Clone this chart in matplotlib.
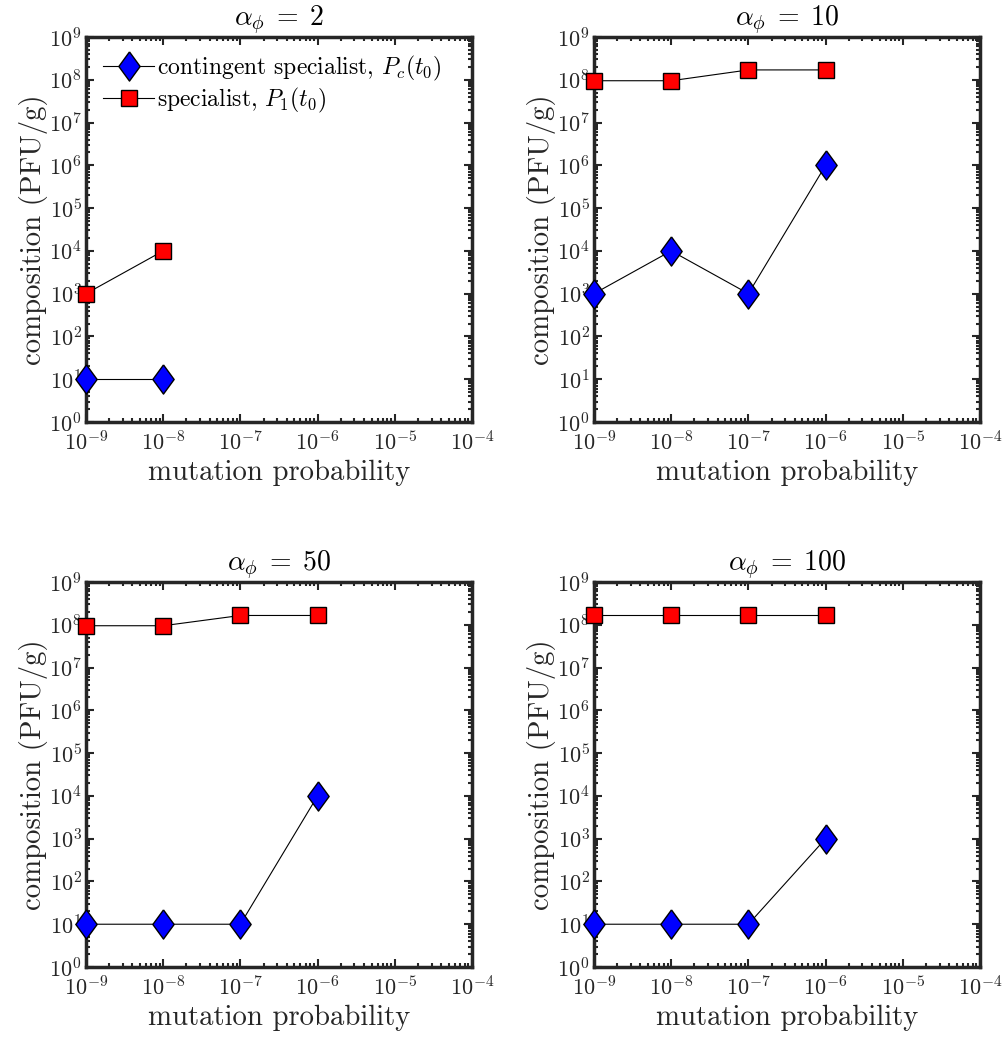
import matplotlib
matplotlib.use("Agg")
import matplotlib.pyplot as plt
from matplotlib.ticker import LogLocator, NullFormatter

plt.rcParams['font.family'] = ['cmr10', 'DejaVu Serif']
plt.rcParams['mathtext.fontset'] = 'cm'
plt.rcParams['axes.formatter.use_mathtext'] = True

# data
mutation = [1e-9, 1e-8, 1e-7, 1e-6]
alphas = [2, 10, 50, 100]
contingent = {
    2: [10, 10],
    10: [1e3, 1e4, 1e3, 1e6],
    50: [10, 10, 10, 1e4],
    100: [10, 10, 10, 1e3],
}
specialist = {
    2: [1e3, 1e4],
    10: [0.95e8, 0.95e8, 1.7e8, 1.7e8],
    50: [0.95e8, 0.95e8, 1.65e8, 1.65e8],
    100: [1.65e8, 1.65e8, 1.65e8, 1.65e8],
}

# MATLAB-like diamond (a bit wider than matplotlib's 'd')
diamond = [(0, 1), (0.73, 0), (0, -1), (-0.73, 0), (0, 1)]

W, H = 1002, 1038
fig = plt.figure(figsize=(W / 100, H / 100), dpi=100)

# axes boxes in pixels: left, top
boxes = [(86, 37), (594, 37), (86, 582), (594, 582)]
aw, ah = 386, 385
dark = '#262626'

for a, (px, py) in zip(alphas, boxes):
    ax = fig.add_axes([px / W, 1 - (py + ah) / H, aw / W, ah / H])
    n = len(contingent[a])
    ax.plot(mutation[:n], contingent[a], '-', color='k', lw=0.8, marker=diamond,
            ms=21, mfc=(0, 0, 1), mec='k', mew=1.0,
            label=r'contingent specialist, $P_c(t_0)$', clip_on=False, zorder=3)
    ax.plot(mutation[:len(specialist[a])], specialist[a], '-', color='k', lw=0.8,
            marker='s', ms=11, mfc=(1, 0, 0), mec='k', mew=1.0,
            label=r'specialist, $P_1(t_0)$', clip_on=False, zorder=3)
    ax.set_xscale('log')
    ax.set_yscale('log')
    ax.set_xlim(1e-9, 1e-4)
    ax.set_ylim(1e0, 1e9)
    ax.xaxis.set_major_locator(LogLocator(base=10, numticks=20))
    ax.yaxis.set_major_locator(LogLocator(base=10, numticks=20))
    ax.xaxis.set_minor_locator(LogLocator(base=10, subs=range(2, 10), numticks=20))
    ax.yaxis.set_minor_locator(LogLocator(base=10, subs=range(2, 10), numticks=20))
    ax.xaxis.set_minor_formatter(NullFormatter())
    ax.yaxis.set_minor_formatter(NullFormatter())
    ax.tick_params(which='both', direction='in', top=True, right=True,
                   colors=dark, labelsize=16, width=1.5)
    ax.tick_params(which='major', length=6)
    ax.tick_params(axis='x', which='major', pad=6)
    ax.tick_params(axis='y', which='major', pad=3)
    ax.tick_params(which='minor', length=3)
    for s in ax.spines.values():
        s.set_linewidth(2.5)
        s.set_color(dark)
    ax.set_xlabel('mutation probability', fontsize=20.7, color=dark, labelpad=4)
    ax.set_ylabel('composition (PFU/g)', fontsize=20.7, color=dark, labelpad=1)
    ax.set_title(r'$\alpha_\phi\;=\;%d$' % a, fontsize=20, pad=6)
    if a == 2:
        ax.legend(loc='upper left', frameon=False, fontsize=17, handlelength=2.2,
                  handletextpad=0.1, borderaxespad=0.3, labelspacing=0.15)

fig.savefig('out.png', dpi=100)
